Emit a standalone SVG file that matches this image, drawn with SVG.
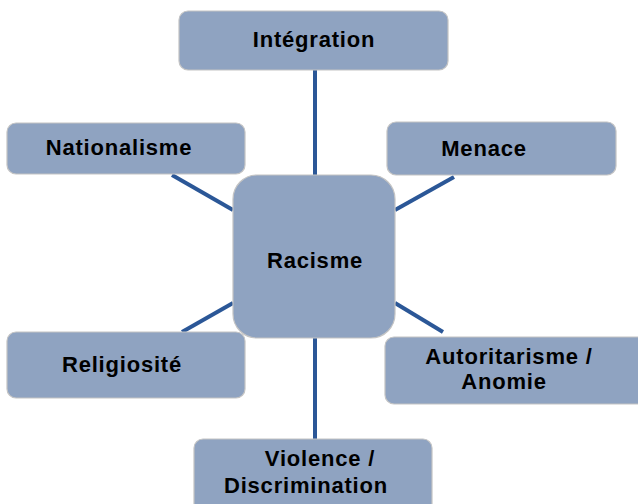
<svg xmlns="http://www.w3.org/2000/svg" width="638" height="504" viewBox="0 0 638 504">
<style>
.box{fill:#8fa3c1;stroke:#c4c4c4;stroke-width:1.2}
.lbl{font-family:"Liberation Sans",Arial,sans-serif;font-weight:bold;font-size:22px;letter-spacing:0.8px;fill:#000;text-anchor:middle}
.con{stroke:#2b5797;stroke-width:4;fill:none}
</style>
<rect width="638" height="504" fill="#fff"/>
<g id="connectors">
<line class="con" x1="315" y1="70" x2="315" y2="176"/>
<line class="con" x1="172" y1="175" x2="233" y2="210"/>
<line class="con" x1="395" y1="210" x2="454" y2="177"/>
<line class="con" x1="182" y1="332" x2="233" y2="303"/>
<line class="con" x1="395" y1="303" x2="443" y2="332"/>
<line class="con" x1="315" y1="337" x2="315" y2="440"/>
</g>
<g id="integration">
<rect class="box" x="179" y="11" width="269" height="59" rx="9"/>
<text class="lbl" x="314" y="47">Intégration</text>
</g>
<g id="nationalisme">
<rect class="box" x="7" y="123" width="238" height="51" rx="9"/>
<text class="lbl" x="119" y="155">Nationalisme</text>
</g>
<g id="menace">
<rect class="box" x="387" y="122" width="229" height="53" rx="9"/>
<text class="lbl" x="484" y="156">Menace</text>
</g>
<g id="racisme">
<rect class="box" x="233" y="175" width="162" height="163" rx="24"/>
<text class="lbl" x="315" y="268">Racisme</text>
</g>
<g id="religiosite">
<rect class="box" x="7" y="332" width="238" height="66" rx="9"/>
<text class="lbl" x="122" y="372">Religiosité</text>
</g>
<g id="autoritarisme">
<rect class="box" x="385" y="337" width="262" height="67" rx="9"/>
<text class="lbl" x="509" y="364">Autoritarisme /</text>
<text class="lbl" x="504" y="389">Anomie</text>
</g>
<g id="violence">
<rect class="box" x="194" y="439" width="238" height="75" rx="9"/>
<text class="lbl" x="320" y="466">Violence /</text>
<text class="lbl" x="306" y="493">Discrimination</text>
</g>
</svg>
